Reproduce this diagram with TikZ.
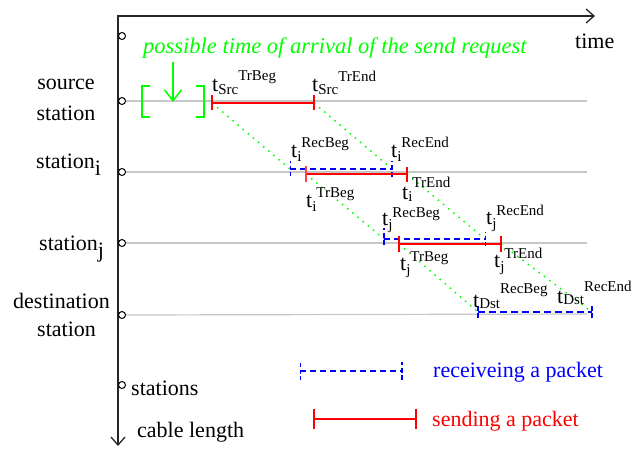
\documentclass[tikz,border=0pt]{standalone}
\usepackage{fontspec}
\setmainfont{Liberation Serif}
\usetikzlibrary{arrows.meta}
\newcommand\tlab[4]{t\raisebox{-#1pt}{\fontsize{15}{15}\selectfont #2}\raisebox{#3pt}{\fontsize{15}{15}\selectfont #4}}
\begin{document}
\begin{tikzpicture}[x=1pt,y=-1pt,font=\fontsize{22}{26}\selectfont,
  lbl/.style={anchor=base west,inner sep=0pt},
  clbl/.style={anchor=base,inner sep=0pt},
  axisline/.style={black!85,line width=1.3pt},
  gridline/.style={black!22,line width=1.2pt},
  stn/.style={circle,draw=black,fill=white,line width=1pt,inner sep=0pt,minimum size=7pt},
  redseg/.style={red,line width=1.3pt},
  redtick/.style={red,line width=1.3pt},
  redtickthick/.style={red!75,line width=2.5pt},
  blueseg/.style={blue,line width=1.5pt,dash pattern=on 6pt off 4pt},
  bluesegthick/.style={blue,line width=2.5pt,dash pattern=on 7pt off 4pt},
  bluetick/.style={blue,line width=1pt,dash pattern=on 4pt off 2.5pt},
  bluetickthick/.style={blue,line width=2.5pt,dash pattern=on 5pt off 2.5pt},
  prop/.style={green,line width=1.5pt,dash pattern=on 1.5pt off 5.2pt},
  barb/.style={-{Straight Barb[length=8pt,width=14pt]}}
]
\useasboundingbox (0,0) rectangle (642,448);

% axes
\coordinate (axtop) at (118,16);
\coordinate (axbot) at (118,446);
\coordinate (axright) at (595,16);
\draw[axisline,{Straight Barb[length=8pt,width=14pt]}-{Straight Barb[length=8pt,width=14pt]}] (axbot) -- (axtop) -- (axright);
\node[lbl] (timelbl) at (575,48) {time};

% station lines
\coordinate (g1e) at (587,101);
\coordinate (g2e) at (587,172);
\coordinate (g3e) at (587,243);
\coordinate (g4e) at (587,314);
\node[stn] (c0) at (122,36) {};
\node[stn] (c1) at (122,101) {};
\node[stn] (c2) at (122,172) {};
\node[stn] (c3) at (122,243) {};
\node[stn] (c4) at (122,315) {};
\node[stn] (c5) at (122,385) {};
\draw[gridline] (c1.east) -- (g1e);
\draw[gridline] (c2.east) -- (g2e);
\draw[gridline] (c3.east) -- (g3e);
\draw[gridline] (c4.east) -- (g4e);

% left labels
\node[clbl] (src1) at (66,89) {source};
\node[clbl] (src2) at (66,120) {station};
\node[lbl] (sti) at (36,168) {station\raisebox{-7pt}{i}};
\node[lbl] (stj) at (39,250) {station\raisebox{-7pt}{j}};
\node[lbl] (dst1) at (13,308) {destination};
\node[lbl] (dst2) at (37,336) {station};
\node[lbl] (stations) at (131,395) {stations};
\node[lbl] (cable) at (137,437) {cable length};

% possible arrival
\node[lbl,green,font=\fontsize{22.5}{26}\selectfont\itshape] (poss) at (143,53) {possible time of arrival of the send request};
\draw[green,line width=1.5pt] (150,86) -- (142,86) -- (142,117) -- (150,117);
\draw[green,line width=1.5pt] (196,86) -- (204,86) -- (204,117) -- (196,117);
\coordinate (garrs) at (173,62);
\coordinate (garre) at (173,102);
\draw[green,line width=1.5pt,-{Straight Barb[length=11pt,width=17pt]}] (garrs) -- (garre);

% event coordinates
\coordinate (sTB) at (212,103);
\coordinate (sTE) at (314,103);
\coordinate (iRB) at (290,169);
\coordinate (iRE) at (392,169);
\coordinate (iTB) at (306,174);
\coordinate (iTE) at (407,174);
\coordinate (jRB) at (384,239);
\coordinate (jRE) at (485,239);
\coordinate (jTB) at (399,244);
\coordinate (jTE) at (501,244);
\coordinate (dRB) at (478,312);
\coordinate (dRE) at (592,312);

% propagation
\draw[prop] (sTB) -- (iRB);
\draw[prop] (sTE) -- (iRE);
\draw[prop] (iTB) -- (jRB);
\draw[prop] (iTE) -- (jRE);
\draw[prop] (jTB) -- (dRB);
\draw[prop] (jTE) -- (dRE);

% source sending
\draw[redseg] (sTB) -- (sTE);
\draw[redtick] ([yshift=-7pt]sTB) -- ([yshift=8pt]sTB);
\draw[redtick] ([yshift=-7pt]sTE) -- ([yshift=8pt]sTE);

% station i
\draw[blueseg] (iRB) -- (iRE);
\draw[bluetick] ([yshift=-7pt]iRB) -- ([yshift=8pt]iRB);
\draw[bluetickthick] ([yshift=-8pt]iRE) -- ([yshift=8pt]iRE);
\draw[redseg] (iTB) -- (iTE);
\draw[redtickthick] ([yshift=-8pt]iTB) -- ([yshift=8pt]iTB);
\draw[redtick] ([yshift=-8pt]iTE) -- ([yshift=7pt]iTE);

% station j
\draw[blueseg] (jRB) -- (jRE);
\draw[bluetickthick] ([yshift=-6pt]jRB) -- ([yshift=11pt]jRB);
\draw[bluetick] ([yshift=-7pt]jRE) -- ([yshift=7pt]jRE);
\draw[redseg] (jTB) -- (jTE);
\draw[redtick] ([yshift=-8pt]jTB) -- ([yshift=8pt]jTB);
\draw[redtick] ([yshift=-8pt]jTE) -- ([yshift=8pt]jTE);

% destination
\draw[bluesegthick] (dRB) -- (dRE);
\draw[bluetickthick] ([yshift=-6pt]dRB) -- ([yshift=8pt]dRB);
\draw[bluetickthick] ([yshift=-6pt]dRE) -- ([yshift=8pt]dRE);

% event labels
\node[lbl] (lsTB) at (212,91) {\tlab{3}{Src}{11}{TrBeg}};
\node[lbl] (lsTE) at (312,91) {\tlab{3}{Src}{10}{TrEnd}};
\node[lbl] (liRB) at (291,157) {\tlab{4}{i}{10}{RecBeg}};
\node[lbl] (liRE) at (391,157) {\tlab{4}{i}{10}{RecEnd}};
\node[lbl] (liTB) at (306,207) {\tlab{4}{i}{10}{TrBeg}};
\node[lbl] (liTE) at (402,199) {\tlab{2}{i}{12}{TrEnd}};
\node[lbl] (ljRB) at (382,225) {\tlab{4}{j}{8}{RecBeg}};
\node[lbl] (ljRE) at (486,224) {\tlab{4}{j}{9}{RecEnd}};
\node[lbl] (ljTB) at (400,270) {\tlab{4}{j}{9}{TrBeg}};
\node[lbl] (ljTE) at (494,267) {\tlab{4}{j}{9}{TrEnd}};
\node[lbl] (ldRB) at (473,307) {\tlab{1}{Dst}{14}{RecBeg}};
\node[lbl] (ldRE) at (557,303) {\tlab{1}{Dst}{12}{RecEnd}};

% legend
\coordinate (lbA) at (300,371);
\coordinate (lbB) at (402,371);
\draw[blueseg] (lbA) -- (lbB);
\draw[bluetick] ([yshift=-9pt]lbA) -- ([yshift=9pt]lbA);
\draw[bluetickthick] ([yshift=-9pt]lbB) -- ([yshift=9pt]lbB);
\node[lbl,blue] (lbtxt) at (433,377) {receiveing a packet};
\coordinate (lrA) at (314,419);
\coordinate (lrB) at (416,419);
\draw[redseg] (lrA) -- (lrB);
\draw[redtick] ([yshift=-10pt]lrA) -- ([yshift=10pt]lrA);
\draw[redtick] ([yshift=-10pt]lrB) -- ([yshift=10pt]lrB);
\node[lbl,red] (lrtxt) at (432,426) {sending a packet};
\end{tikzpicture}
\end{document}
